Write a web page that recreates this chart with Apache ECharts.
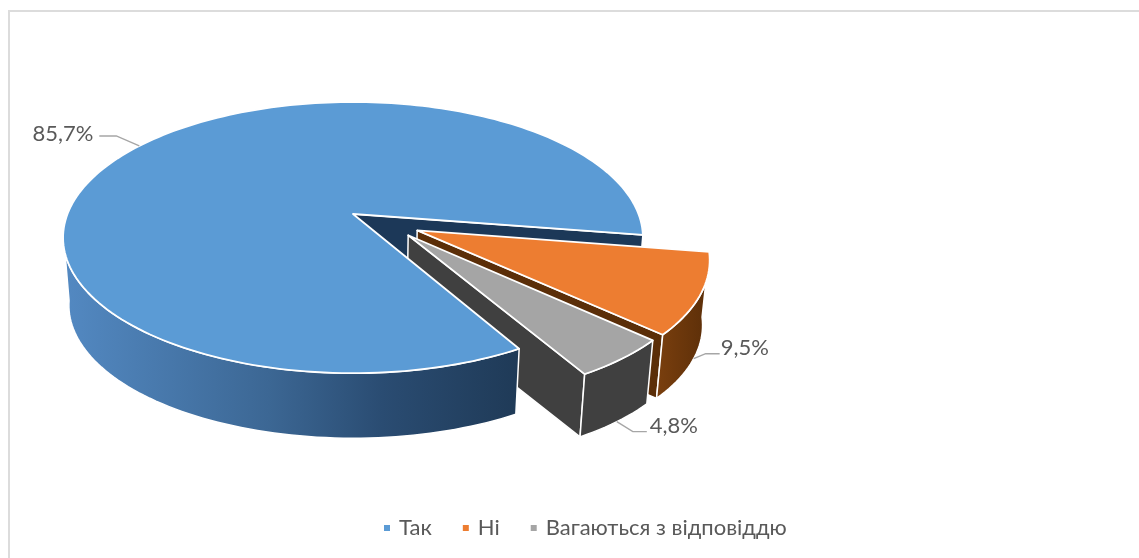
<!DOCTYPE html>
<html>
<head>
<meta charset="utf-8">
<style>html,body{margin:0;padding:0;background:#fff}#chart{width:1139px;height:558px}</style>
<script src="https://cdn.jsdelivr.net/npm/echarts@6/dist/echarts.min.js"></script>
</head>
<body>
<div id="chart"></div>
<script>
// Survey answers, percent
const categories = ['Так', 'Ні', 'Вагаються з відповіддю'];
const shares = [85.7, 9.5, 4.8];

// Slice colours: top face and side walls
const topColors = ['#5B9BD5', '#ED7D31', '#A5A5A5'];
const wallStops = [
  [[0, '#1f3a57'], [0.3, '#2a4c72'], [0.55, '#3c6794'], [1, '#5389c2']],
  [[0, '#5b2e08'], [1, '#7a3f0e']],
  [[0, '#404040'], [1, '#404040']]
];
const innerWallColors = ['#1c3858', '#5b2e08', '#404040'];

// Tilted-disc projection of the pie
const disc = { cx: 353, cy: 214, rx: 285.5, ry: 131.5, persp: 0.174, floorScale: 0.98, firstAngle: 60.4 };
// Exploded offset, radius and wall height of each slice
const sliceOffset = [[0, 0], [0.22, 0.122], [0.188, 0.157]];
const sliceRadius = [1, 0.98, 0.975];
const sliceDrop = [68.2, 66, 66];
// Leader lines: which rim they start from, then their bend and end relative to it
const leaderRim = [0, 1, 1];
const leaderBend = [[-23, -10], [12, -5], [16, 10]];
const leaderEnd = [[-40, -10], [26, -5], [30, 10]];
const labelShift = [[-6, -2], [1, -6], [3, -6]];

const total = shares.reduce((a, b) => a + b, 0);
const sliceAngles = i => {
  const before = shares.slice(0, i).reduce((a, b) => a + b, 0);
  const from = disc.firstAngle + before / total * 360;
  return [from, from + shares[i] / total * 360];
};

// Maps a disc point to the page; level 0 is the top face, 1 the floor
function project(i, u, v, level) {
  const w = 1 - disc.persp * v;
  const f = level ? disc.floorScale : 1;
  return [
    disc.cx + f * disc.rx * u / w,
    disc.cy + (level ? sliceDrop[i] : 0) + f * disc.ry * v / w
  ];
}
function apex(i, level) {
  return project(i, sliceOffset[i][0], sliceOffset[i][1], level);
}
function rim(i, deg, level) {
  const a = deg * Math.PI / 180, r = sliceRadius[i];
  return project(i, sliceOffset[i][0] + r * Math.cos(a), sliceOffset[i][1] + r * Math.sin(a), level);
}
function arc(i, from, to, level) {
  const n = Math.max(4, Math.ceil(Math.abs(to - from) / 1.5)), pts = [];
  for (let k = 0; k <= n; k++) pts.push(rim(i, from + (to - from) * k / n, level));
  return pts;
}

function polygon(points, fill, z2, lineWidth) {
  return { type: 'polygon', z2: z2 || 0, shape: { points },
    style: { fill, stroke: '#ffffff', lineWidth: lineWidth || 1.5, lineJoin: 'round' } };
}
function topFace(i) {
  const [from, to] = sliceAngles(i);
  return polygon([apex(i, 0)].concat(arc(i, from, to, 0)), topColors[i], 5, 1.8);
}
// Curved outer wall; only its front-facing part is ever in view
function outerWall(i) {
  const [from, to] = sliceAngles(i);
  const end = Math.min(to, i === 0 ? 172 : to);
  const pts = arc(i, from, end, 0).concat(arc(i, from, end, 1).reverse());
  const xs = pts.map(p => p[0]), x0 = Math.min(...xs), x1 = Math.max(...xs);
  const stops = wallStops[i].map(s => ({ offset: s[0], color: s[1] }));
  return polygon(pts, new echarts.graphic.LinearGradient(x1, 0, x0, 0, stops, true), 3);
}
// Flat wall running from the apex to the rim at the given angle
function radialWall(i, deg) {
  const pts = [apex(i, 0), rim(i, deg, 0), rim(i, deg, 1), apex(i, 1)];
  return polygon(pts, innerWallColors[i], 1);
}
function labelParts(i) {
  const [from, to] = sliceAngles(i);
  const a = rim(i, (from + to) / 2, leaderRim[i]);
  const b = [a[0] + leaderBend[i][0], a[1] + leaderBend[i][1]];
  const c = [a[0] + leaderEnd[i][0], a[1] + leaderEnd[i][1]];
  const left = leaderEnd[i][0] < 0;
  return [
    { type: 'polyline', z2: 8, shape: { points: [a, b, c] }, style: { stroke: '#a6a6a6', lineWidth: 1.4, fill: null } },
    { type: 'text', z2: 9, style: {
        x: c[0] + labelShift[i][0], y: c[1] + labelShift[i][1],
        text: shares[i].toFixed(1).replace('.', ',') + '%',
        align: left ? 'right' : 'left', verticalAlign: 'middle',
        fill: '#595959', font: '22px Lato'
    } }
  ];
}

const renderers = [
  // Main slice sits in front of the exploded ones
  () => ({ type: 'group', children: [outerWall(0), topFace(0)].concat(labelParts(0)) }),
  () => {
    const [, to] = sliceAngles(1);
    return { type: 'group', children: [radialWall(1, to), outerWall(1), topFace(1)].concat(labelParts(1)) };
  },
  () => {
    const [, to] = sliceAngles(2);
    return { type: 'group', children: [radialWall(2, to), outerWall(2), topFace(2)].concat(labelParts(2)) };
  }
];

const series = [
  // Cut face of the main slice, seen through the gap left by the exploded slices
  {
    type: 'custom', coordinateSystem: 'none', name: 'cut', silent: true, data: [shares[0]],
    renderItem: () => {
      const [, to] = sliceAngles(0);
      return { type: 'group', children: [radialWall(0, to)] };
    }
  }
].concat([1, 2, 0].map(i => ({
  type: 'custom', coordinateSystem: 'none', name: categories[i], silent: true,
  data: [shares[i]], itemStyle: { color: topColors[i] }, renderItem: renderers[i]
})));

const chart = echarts.init(document.getElementById('chart'), null, { renderer: 'canvas' });
chart.setOption({
  animation: false,
  backgroundColor: '#ffffff',
  graphic: [{
    type: 'rect', silent: true, z: -1,
    shape: { x: 9, y: 11, width: 1200, height: 620 },
    style: { fill: '#fff', stroke: '#dcdcdc', lineWidth: 2 }
  }],
  legend: {
    data: categories, left: 379, top: 512, icon: 'rect', itemWidth: 6, itemHeight: 6, itemGap: 31,
    textStyle: { color: '#595959', fontFamily: 'Lato', fontSize: 22, padding: [0, 0, 0, 4] }, selectedMode: false
  },
  series
});
</script>
</body>
</html>
